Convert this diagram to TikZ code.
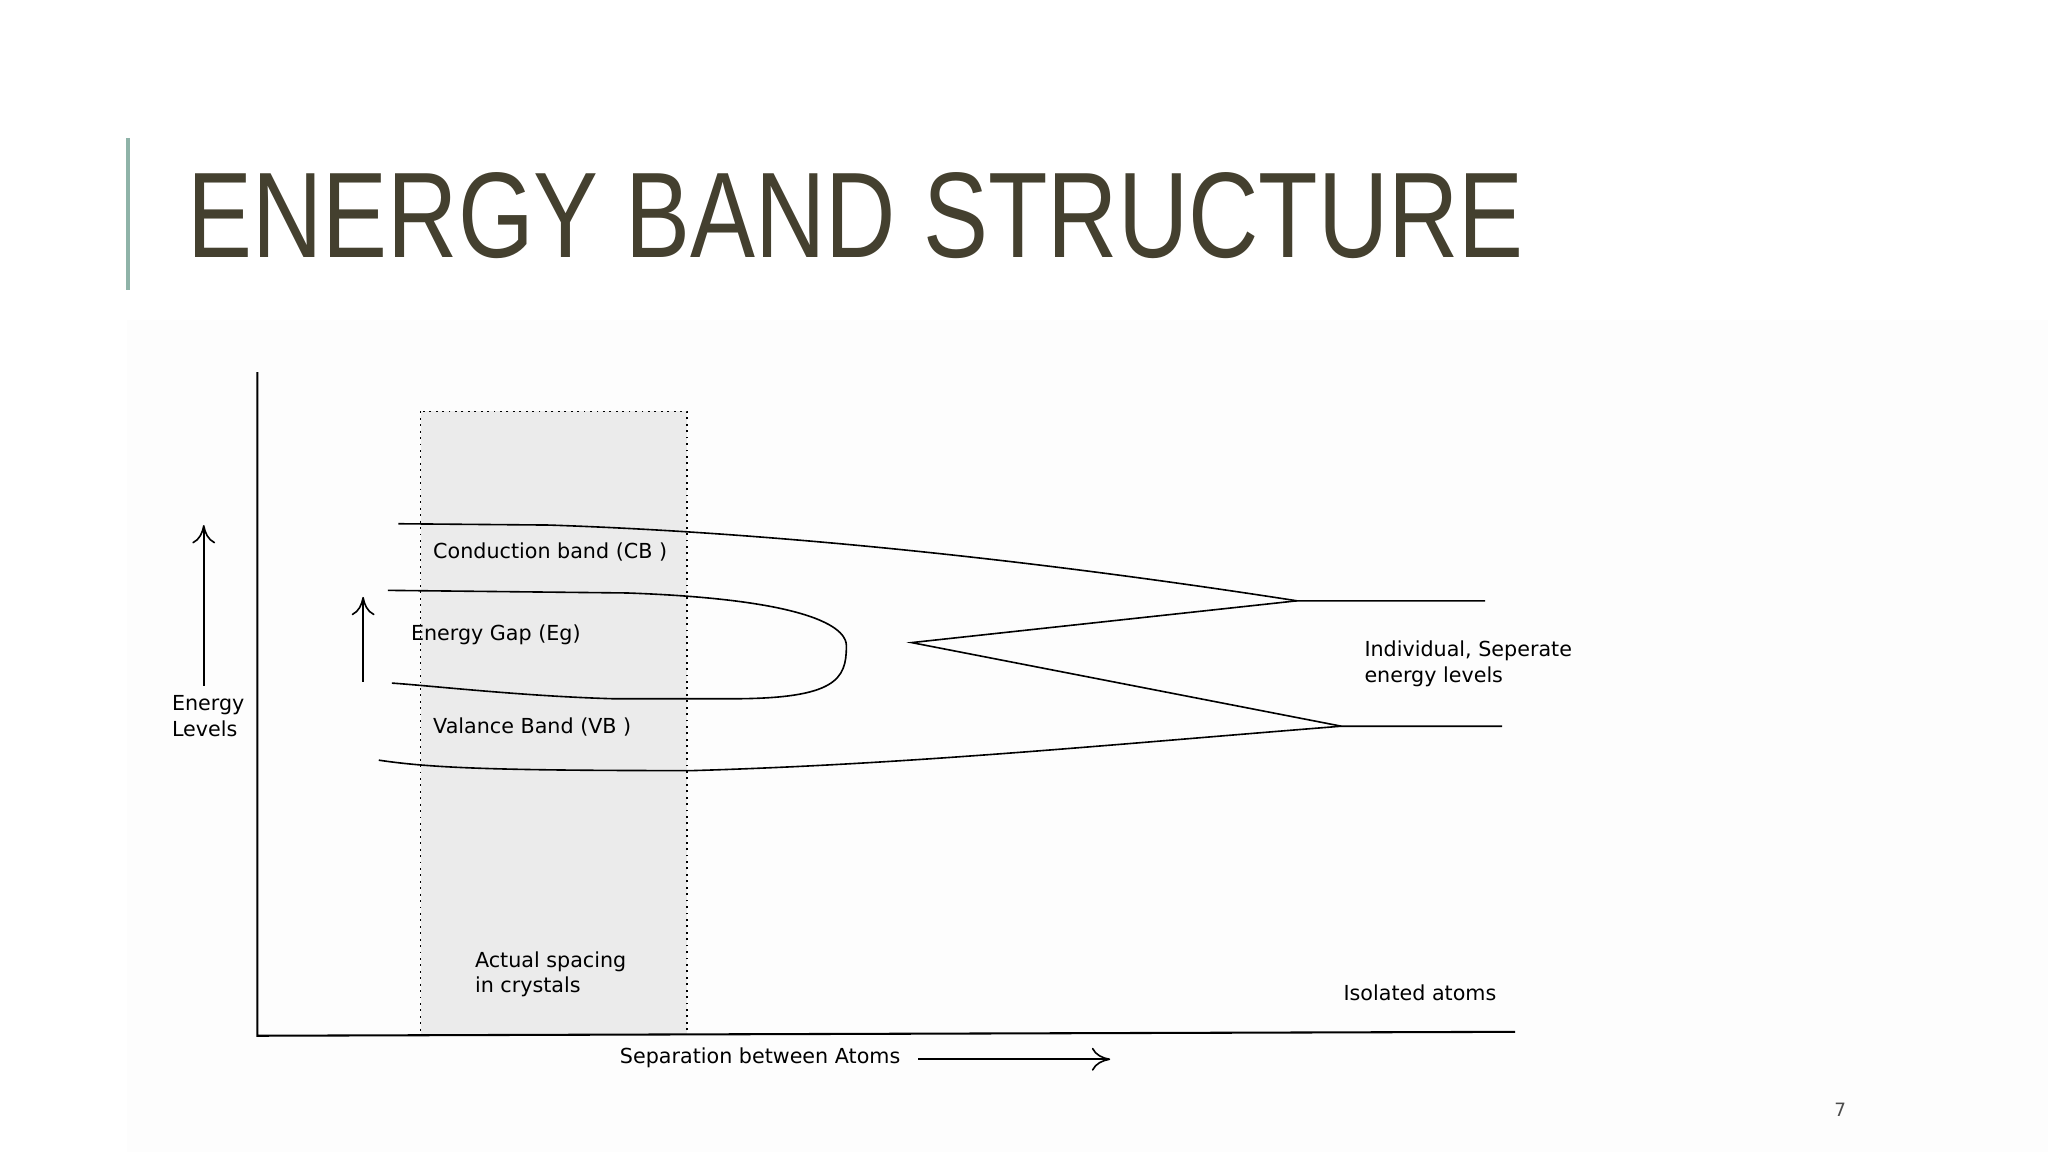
\documentclass[tikz,border=0pt]{standalone}
\usepackage{fontspec}
\setmainfont{DejaVu Sans}
\newfontfamily\titlefont{Liberation Sans}
\usetikzlibrary{arrows.meta}
\begin{document}
\begin{tikzpicture}[x=0.01cm,y=-0.01cm,
  lbl/.style={font=\fontsize{4.5pt}{5.6pt}\selectfont, inner sep=0pt, align=left},
  crv/.style={line width=0.35pt},
  arr/.style={line width=0.35pt,-{To[length=4pt,width=5pt]}}]
\useasboundingbox (0,0) rectangle (1568,882);
\fill[white] (0,0) rectangle (1568,882);
\fill[black!0.8] (97,245) rectangle (1568,882);
\draw[color={rgb,255:red,143;green,179;blue,168}, line width=1pt] (98,106) -- (98,222);
\node[anchor=base west, inner sep=0pt, text={rgb,255:red,68;green,64;blue,47}, font=\titlefont\fontsize{26.5pt}{30pt}\selectfont, xscale=0.80] (title) at (143,197) {ENERGY BAND STRUCTURE};
% shaded box
\fill[black!8] (322,315) rectangle (526,792);
\draw[densely dotted, line width=0.4pt] (322,315) rectangle (526,792);
% axes
\coordinate (o) at (197,793);
\coordinate (ytop) at (197,285);
\coordinate (xend) at (1160,790);
\draw[line width=0.45pt] (ytop) -- (o) -- (xend);
% arrows
\coordinate (ea1) at (156,525); \coordinate (ea2) at (156,402);
\draw[arr] (ea1) -- (ea2);
\coordinate (ga1) at (278,522); \coordinate (ga2) at (278,457);
\draw[arr] (ga1) -- (ga2);
\coordinate (sa1) at (703,811); \coordinate (sa2) at (850,811);
\draw[arr] (sa1) -- (sa2);
% curves
\coordinate (c1) at (993,460); \coordinate (c2) at (1027,556); \coordinate (tip) at (698,492);
\draw[crv] (305,401) -- (420,402) .. controls (600,408) and (800,430) .. (c1) -- (1137,460);
\draw[crv] (297,452) -- (480,454) .. controls (650,460) and (648,490) .. (648,495)
  .. controls (648,520) and (640,535) .. (560,535) -- (470,535) .. controls (400,533) and (330,525) .. (300,523);
\draw[crv] (c1) -- (tip) -- (c2) -- (1150,556);
\draw[crv] (290,582) .. controls (330,588) and (380,590) .. (530,590) .. controls (700,585) and (850,570) .. (c2);
% labels
\node[lbl, anchor=west] (cb) at (331,423) {Conduction band (CB )};
\node[lbl, anchor=west] (eg) at (314,486) {Energy Gap (Eg)};
\node[lbl, anchor=west] (vb) at (331,557) {Valance Band (VB )};
\node[lbl, anchor=west] (el) at (131,548) {Energy\\Levels};
\node[lbl, anchor=west] (ind) at (1044,508) {Individual, Seperate\\energy levels};
\node[lbl, anchor=west] (act) at (363,746) {Actual spacing\\in crystals};
\node[lbl, anchor=west] (iso) at (1028,760) {Isolated atoms};
\node[lbl, anchor=east] (sep) at (690,810) {Separation between Atoms};
\node[font=\fontsize{4pt}{5pt}\selectfont, text=black!70, inner sep=0pt] (pg) at (1409,850) {7};
\end{tikzpicture}
\end{document}
